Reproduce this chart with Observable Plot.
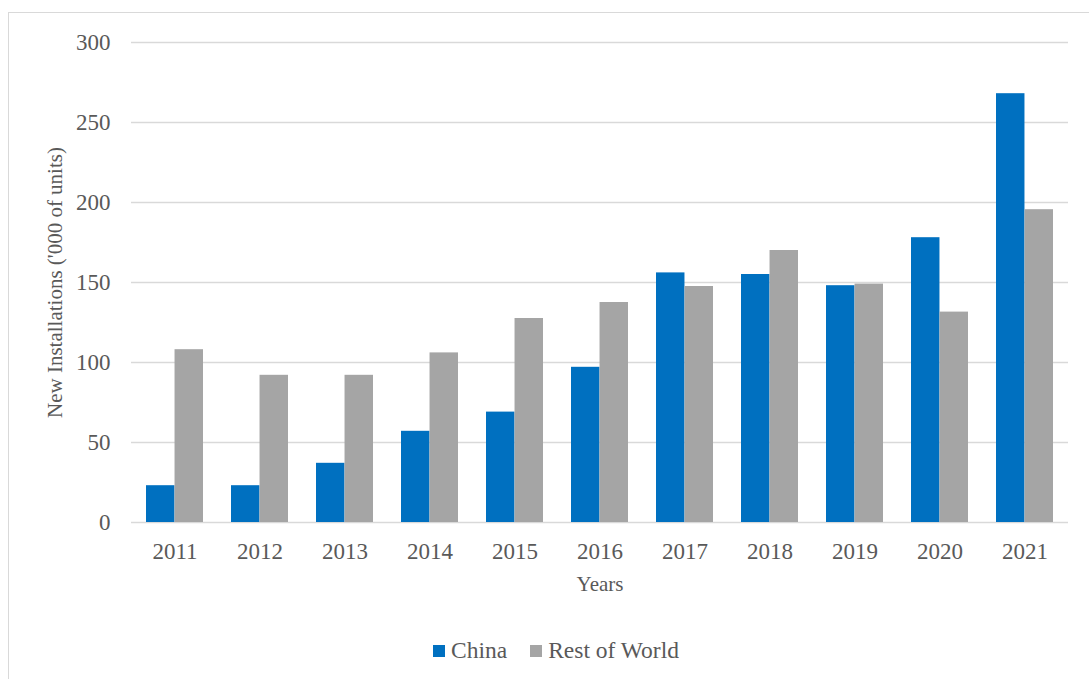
<!DOCTYPE html>
<html>
<head>
<meta charset="utf-8">
<script src="https://cdn.jsdelivr.net/npm/d3@7"></script>
<script src="https://cdn.jsdelivr.net/npm/@observablehq/plot@0.6"></script>
<style>
  html, body { margin: 0; padding: 0; background: #fff; overflow: hidden; }
  body { width: 1089px; height: 679px; position: relative; font-family: "Liberation Serif", "Times New Roman", serif; }
  #frame { position: absolute; left: 8px; top: 12px; width: 1200px; height: 800px;
           border-top: 1.5px solid #d9d9d9; border-left: 1.5px solid #d9d9d9; }
  #chart { position: absolute; left: 0; top: 0; }
  #chart svg, #chart text { font-family: "Liberation Serif", "Times New Roman", serif !important; }
  #legend { position: absolute; left: 433px; top: 634px; }
  #legend, #legend * { font-family: "Liberation Serif", "Times New Roman", serif !important; }
  #legend .lg-swatch, #legend span { margin-right: 23px !important; font-size: 23.5px !important; color: #595959 !important; }
  #legend svg { margin-right: 6px !important; }
</style>
</head>
<body>
<div id="frame"></div>
<div id="chart"></div>
<div id="legend"></div>
<script>
const years = ["2011","2012","2013","2014","2015","2016","2017","2018","2019","2020","2021"];
const china = [23, 23, 37, 57, 69, 97, 156, 155, 148, 178, 268];
const restOfWorld = [108, 92, 92, 106, 127.5, 137.5, 147.5, 170, 149, 131.5, 195.5];
const series = ["China", "Rest of World"];
const colors = ["#0070C0", "#A5A5A5"];
const yTicks = [0, 50, 100, 150, 200, 250, 300];

const FONT = '"Liberation Serif", "Times New Roman", serif';
const W = 1089, H = 610;
const mL = 131, mR = 21, mT = 42, mB = 88;
const padInner = 0.33, padOuter = 0.165;
const step = (W - mL - mR) / (years.length - padInner + 2 * padOuter);
const half = step * (1 - padInner) / 2;

const plot = Plot.plot({
  width: W,
  height: H,
  marginLeft: mL,
  marginRight: mR,
  marginTop: mT,
  marginBottom: mB,
  style: { fontFamily: FONT, color: "#595959", background: "transparent" },
  x: { type: "band", domain: years, paddingInner: padInner, paddingOuter: padOuter },
  y: { domain: [0, 300] },
  marks: [
    Plot.gridY(yTicks, { stroke: "#d9d9d9", strokeOpacity: 1, strokeWidth: 1.5 }),
    Plot.barY(years, { x: years, y: china, fill: colors[0], insetRight: half }),
    Plot.barY(years, { x: years, y: restOfWorld, fill: colors[1], insetLeft: half }),
    Plot.axisY(yTicks, { tickSize: 0, tickPadding: 21, fontSize: 23, fontFamily: FONT, label: null }),
    Plot.axisY({ ticks: [], tickSize: 0, label: "New Installations ('000 of units)", labelAnchor: "center", labelArrow: "none", labelOffset: 84, fontSize: 21, fontFamily: FONT }),
    Plot.axisX({ tickSize: 0, tickPadding: 20.5, fontSize: 23, fontFamily: FONT, label: null }),
    Plot.axisX({ ticks: [], tickSize: 0, label: "Years", labelAnchor: "center", labelArrow: "none", labelOffset: 68, fontSize: 21, fontFamily: FONT })
  ]
});
document.getElementById("chart").appendChild(plot);

const leg = Plot.legend({
  color: { domain: series, range: colors },
  swatchSize: 12,
  className: "lg",
  style: { fontFamily: FONT, fontSize: "23.5px", color: "#595959" }
});
document.getElementById("legend").appendChild(leg);
</script>
</body>
</html>
